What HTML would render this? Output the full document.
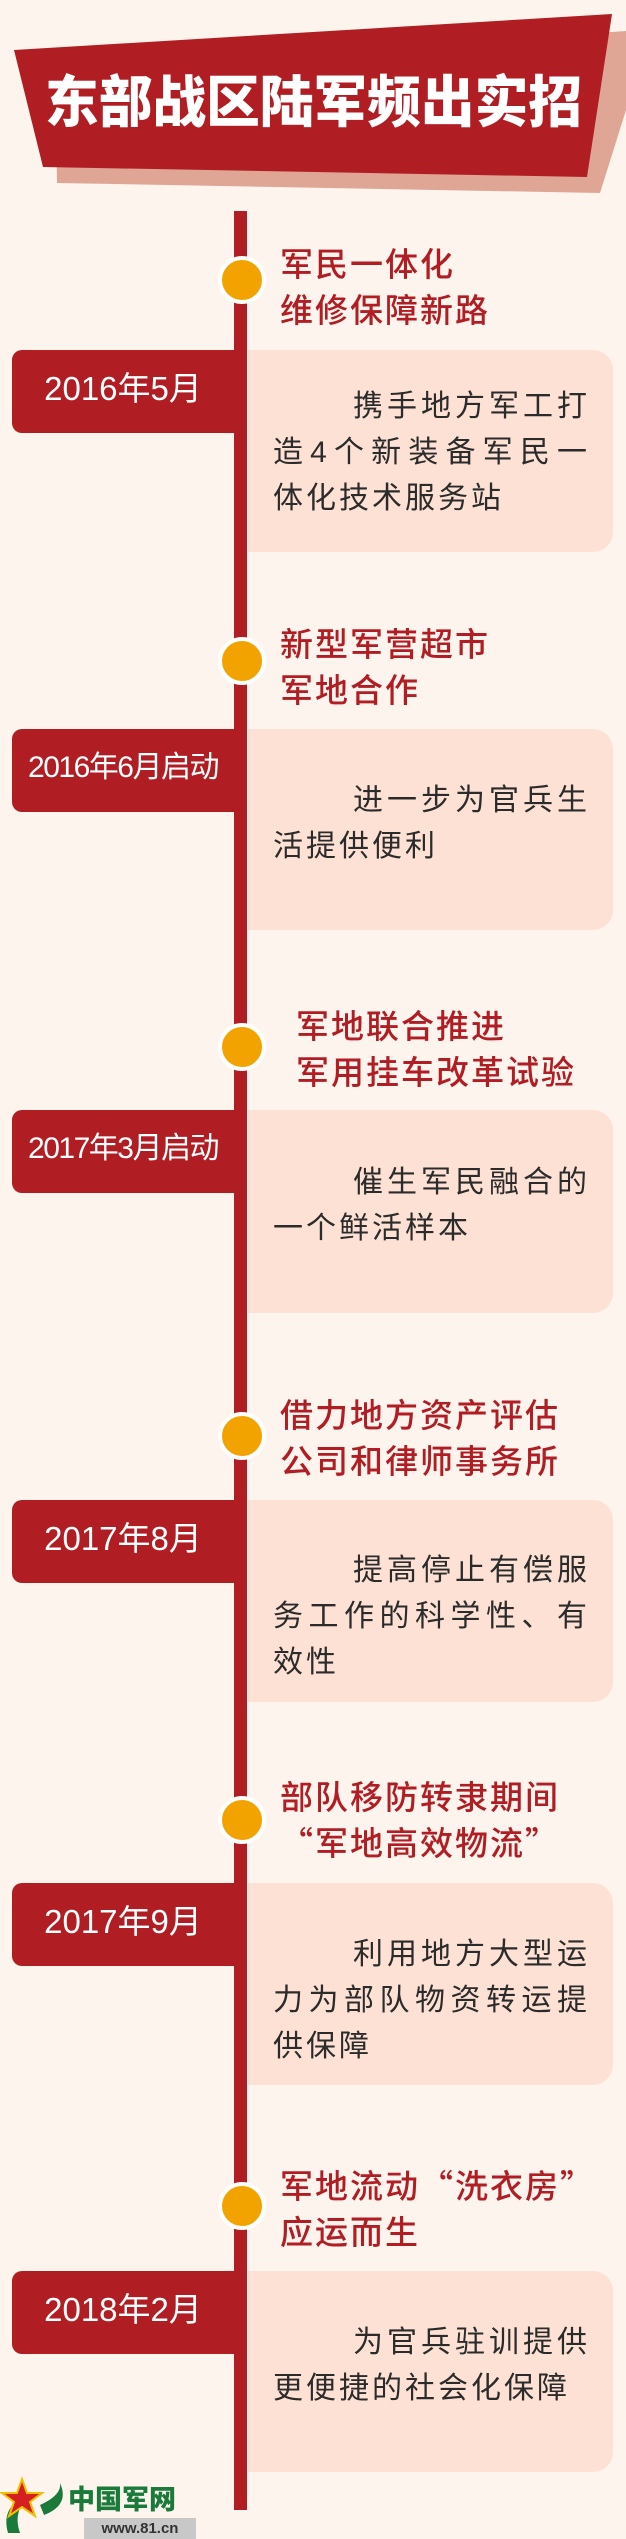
<!DOCTYPE html>
<html><head><meta charset="utf-8">
<style>
*{margin:0;padding:0;box-sizing:border-box}
body{width:626px;height:2539px;background:#fdf4ee;position:relative;overflow:hidden;font-family:"Liberation Sans","Noto Sans CJK SC",sans-serif}
.abs{position:absolute}
.line{left:234px;width:13px;top:211px;height:2299px;background:#b01e23}
.dot{width:48px;height:48px;border-radius:50%;background:#f3a300;border:4px solid #fff;left:218px}
.ttl{left:280px;color:#b01e23;font-size:33px;line-height:46px;white-space:nowrap;font-weight:500;letter-spacing:2px;font-family:"Noto Sans CJK SC",sans-serif}
.date{left:12px;width:222px;height:83px;background:#b01e23;border-radius:10px 0 0 10px;color:#fff;font-size:33px;line-height:78px;text-align:center;white-space:nowrap}
.box{left:248px;width:365px;background:#fde1d4;border-radius:0 20px 20px 0}
.txt{left:273px;width:314px;color:#2b2b2b;font-size:30px;line-height:46px}
.txt div{white-space:nowrap;letter-spacing:3px}
.txt .j{text-align:justify;text-align-last:justify;letter-spacing:0}
.txt .f{padding-left:80px}
</style></head><body>
<svg class="abs" style="left:0;top:0" width="626" height="230">
<polygon points="55,70 626,31 626,110 600,193 57,183" fill="#dfa696"/>
<polygon points="14,50 612,14 587,177 43,167" fill="#b01e23"/>
<text x="45" y="122" textLength="537" lengthAdjust="spacingAndGlyphs" fill="#fff" font-size="56" font-weight="900" font-family="Noto Sans CJK SC, sans-serif">东部战区陆军频出实招</text>
</svg>
<div class="abs line"></div>

<!-- 1 -->
<div class="abs dot" style="top:256px"></div>
<div class="abs ttl" style="top:239px">军民一体化<br>维修保障新路</div>
<div class="abs box" style="top:350px;height:202px"></div>
<div class="abs date" style="top:350px">2016年5月</div>
<div class="abs txt" style="top:384px"><div class="j f">携手地方军工打</div><div class="j">造4个新装备军民一</div><div>体化技术服务站</div></div>

<!-- 2 -->
<div class="abs dot" style="top:637px"></div>
<div class="abs ttl" style="top:619px">新型军营超市<br>军地合作</div>
<div class="abs box" style="top:729px;height:201px"></div>
<div class="abs date" style="top:729px;font-size:30px;letter-spacing:-1.5px">2016年6月启动</div>
<div class="abs txt" style="top:778px"><div class="j f">进一步为官兵生</div><div>活提供便利</div></div>

<!-- 3 -->
<div class="abs dot" style="top:1023px"></div>
<div class="abs ttl" style="top:1001px;left:296px">军地联合推进<br>军用挂车改革试验</div>
<div class="abs box" style="top:1110px;height:203px"></div>
<div class="abs date" style="top:1110px;font-size:30px;letter-spacing:-1.5px">2017年3月启动</div>
<div class="abs txt" style="top:1160px"><div class="j f">催生军民融合的</div><div>一个鲜活样本</div></div>

<!-- 4 -->
<div class="abs dot" style="top:1412px"></div>
<div class="abs ttl" style="top:1390px">借力地方资产评估<br>公司和律师事务所</div>
<div class="abs box" style="top:1500px;height:202px"></div>
<div class="abs date" style="top:1500px">2017年8月</div>
<div class="abs txt" style="top:1548px"><div class="j f">提高停止有偿服</div><div class="j">务工作的科学性、有</div><div>效性</div></div>

<!-- 5 -->
<div class="abs dot" style="top:1796px"></div>
<div class="abs ttl" style="top:1772px">部队移防转隶期间<br>“军地高效物流”</div>
<div class="abs box" style="top:1883px;height:202px"></div>
<div class="abs date" style="top:1883px">2017年9月</div>
<div class="abs txt" style="top:1932px"><div class="j f">利用地方大型运</div><div class="j">力为部队物资转运提</div><div>供保障</div></div>

<!-- 6 -->
<div class="abs dot" style="top:2182px"></div>
<div class="abs ttl" style="top:2161px">军地流动“洗衣房”<br>应运而生</div>
<div class="abs box" style="top:2271px;height:201px"></div>
<div class="abs date" style="top:2271px">2018年2月</div>
<div class="abs txt" style="top:2320px"><div class="j f">为官兵驻训提供</div><div>更便捷的社会化保障</div></div>

<!-- logo -->
<svg class="abs" style="left:0;top:2475px" width="70" height="64">
<path d="M8,58 Q0,30 30,20 Q12,36 20,58 Z" fill="#1a7a3a"/>
<path d="M40,30 Q62,20 60,8 Q70,30 44,40 Z" fill="#1a7a3a"/>
<polygon points="22,4 27,18 42,18 30,27 35,41 22,32 9,41 14,27 2,18 17,18" fill="#d42020" stroke="#f0c000" stroke-width="2"/>
</svg>
<div class="abs" style="left:68px;top:2480px;color:#1a7a3a;font-size:27px;font-weight:900;font-family:'Noto Sans CJK SC',sans-serif;line-height:36px">中国军网</div>
<div class="abs" style="left:84px;top:2518px;width:112px;height:21px;background:#c8c8c8;color:#333;font-size:15px;font-weight:bold;text-align:center;line-height:21px">www.81.cn</div>
</body></html>
